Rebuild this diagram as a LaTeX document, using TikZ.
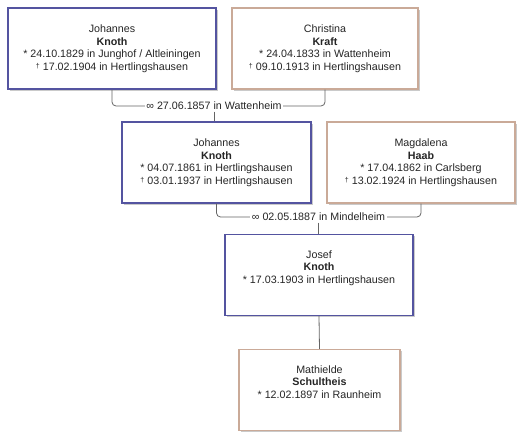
\documentclass[tikz,border=0pt]{standalone}
\usepackage{fontspec}
\setmainfont{Liberation Sans}
\usetikzlibrary{shadows}
\definecolor{manline}{RGB}{84,84,160}
\definecolor{womanline}{RGB}{202,170,152}
\definecolor{tieline}{RGB}{100,100,100}
\newcommand{\born}{*\ }
\newcommand{\died}{{\scriptsize\raisebox{1.5pt}{†}}\ }

\begin{document}
\begin{tikzpicture}[x=1pt,y=-1pt,
  person/.style={draw,line width=1.2pt,fill=white,align=center,
    minimum height=81pt,inner sep=0pt,text=black!85,
    font=\fontsize{10.7}{12.5}\selectfont,
    drop shadow={shadow xshift=2pt,shadow yshift=-2pt,fill=black!35,opacity=0.6}},
  man/.style={person,draw=manline},
  woman/.style={person,draw=womanline},
  tie/.style={draw=tieline,line width=0.8pt,rounded corners=4pt},
  wedding/.style={fill=white,inner sep=1.5pt,text=black!85,
    font=\fontsize{10.7}{12.5}\selectfont}]
  \useasboundingbox (0,0) rectangle (531,446);
  % Grandparents
  \node[man,minimum width=208pt] (johannesA) at (112,48.5)
    {Johannes\\\textbf{Knoth}\\\born 24.10.1829 in Junghof / Altleiningen\\\died 17.02.1904 in Hertlingshausen};
  \node[woman,minimum width=186pt] (christina) at (325,48.5)
    {Christina\\\textbf{Kraft}\\\born 24.04.1833 in Wattenheim\\\died 09.10.1913 in Hertlingshausen};
  % Parents
  \node[man,minimum width=189pt] (johannesB) at (216.5,162.5)
    {Johannes\\\textbf{Knoth}\\\born 04.07.1861 in Hertlingshausen\\\died 03.01.1937 in Hertlingshausen};
  \node[woman,minimum width=188pt] (magdalena) at (421,162.5)
    {Magdalena\\\textbf{Haab}\\\born 17.04.1862 in Carlsberg\\\died 13.02.1924 in Hertlingshausen};
  % Couple
  \node[man,minimum width=188pt] (josef) at (319,275)
    {Josef\\\textbf{Knoth}\\\born 17.03.1903 in Hertlingshausen\\\strut};
  \node[woman,minimum width=161pt] (mathielde) at (319.5,390)
    {Mathielde\\\textbf{Schultheis}\\\born 12.02.1897 in Raunheim\\\strut};
  % First marriage
  \coordinate (tieA) at (214,106);
  \draw[tie] (johannesA.south) |- (tieA) -| (christina.south);
  \node[wedding] (wedA) at (tieA) {∞ 27.06.1857 in Wattenheim};
  \draw[tie] (wedA.south) -- (wedA.south |- johannesB.north);
  % Second marriage
  \coordinate (tieB) at (318.5,217);
  \draw[tie] (johannesB.south) |- (tieB) -| (magdalena.south);
  \node[wedding] (wedB) at (tieB) {∞ 02.05.1887 in Mindelheim};
  \draw[tie] (wedB.south) -- (wedB.south |- josef.north);
  % Spouses
  \draw[tie] (josef.south) -- (mathielde.north);
\end{tikzpicture}
\end{document}
